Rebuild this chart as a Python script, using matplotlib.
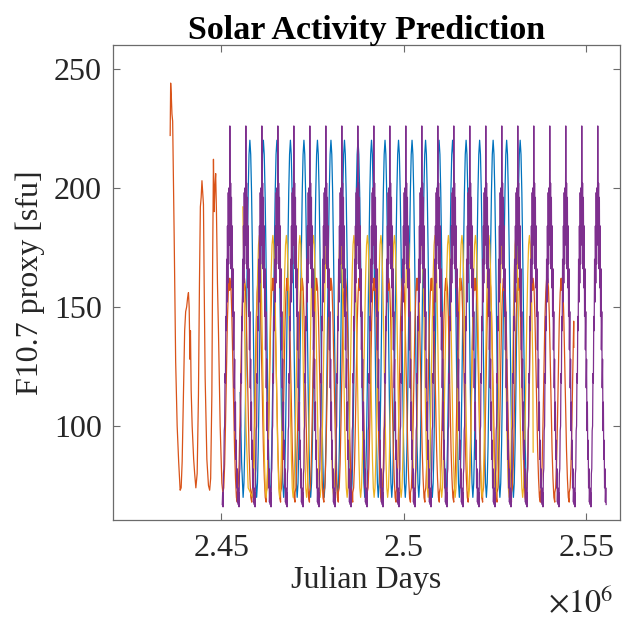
import matplotlib
matplotlib.use("Agg")
import matplotlib.pyplot as plt
import numpy as np

# ---------------------------------------------------------------------
# Data: observed F10.7 record (Julian day, sfu) and repeating cycle
# profiles used by the four predicted series
# ---------------------------------------------------------------------
obs_jd = [2436026, 2436163, 2436355, 2436519, 2436711, 2437122, 2437533,
          2437944, 2438355, 2438766, 2439040, 2439314, 2439670, 2439999,
          2440273, 2440547, 2440821, 2441040, 2441232, 2441451, 2441588,
          2441780, 2442054, 2442465, 2442739, 2443068, 2443424, 2443780,
          2444054, 2444301, 2444520, 2444739, 2444931, 2445150, 2445342,
          2445616, 2446082, 2446520, 2446849, 2447123, 2447452, 2447671,
          2447890, 2448082, 2448274, 2448493, 2448712, 2448986, 2449260,
          2449726, 2450192, 2450466]
obs_f107 = [222, 244, 238, 231, 228, 180, 127, 100, 85, 73, 74, 85, 113, 140,
            148, 150, 154, 156, 150, 128, 140, 115, 100, 86, 80, 74, 80, 113,
            160, 192, 196, 203, 198, 193, 160, 120, 86, 75, 73, 78, 113, 170,
            212, 190, 200, 206, 190, 160, 140, 100, 76, 72]

# one cycle, phase 0..1 from minimum to minimum
smooth_phase = np.linspace(0, 1, 17)
blue_cycle = [70, 76, 92, 116, 145, 174, 198, 214, 220,
              214, 198, 174, 145, 116, 92, 76, 70]
yellow_cycle = [70, 74, 86, 104, 125, 146, 164, 176, 180,
                176, 164, 146, 125, 104, 86, 74, 70]

orange_phase = [0.0, 0.0625, 0.125, 0.1875, 0.25, 0.3125, 0.375, 0.44,
                0.47, 0.5, 0.5625, 0.625, 0.6875, 0.75, 0.8125, 0.875,
                0.9375, 1.0]
orange_cycle = [72, 74, 84, 102, 124, 144, 156, 162, 157, 162, 158, 146,
                128, 108, 90, 78, 70, 68]

purple_phase = np.linspace(0, 1, 41)
purple_cycle = [67, 72, 66, 80, 82, 98, 100, 122, 118, 146, 140, 170, 152,
                184, 160, 198, 168, 200, 176, 226, 180, 202, 166, 196, 158,
                184, 146, 166, 132, 148, 116, 128, 98, 110, 86, 94, 74, 82,
                68, 74, 67]

# cycle timing: first minimum [JD], period [days], number of cycles
blue_start, blue_period, blue_n = 2456014, 3703, 21
yellow_start, yellow_period, yellow_n = 2458616, 3700, 21
orange_start, orange_period, orange_n = 2450466, 3954, 25
purple_start, purple_period, purple_n = 2450300, 4383, 24

# series lead-in / cut-off points
blue_head_jd, blue_head_val = [2455206, 2455600], [114, 85]
yellow_head_jd, yellow_head_val = [2455946, 2456350, 2456800, 2457400], [192, 150, 100, 74]
yellow_end_jd, yellow_end_val = 2535488, 89
orange_end_jd, orange_end_val = 2546640, 133


def tile_cycles(start, period, n, phase, values):
    """Repeat one cycle profile n times starting at the given minimum."""
    jd, val = [], []
    for k in range(n):
        jd.extend(start + k * period + np.asarray(phase) * period)
        val.extend(values)
    return np.array(jd), np.array(val)


def cut(jd, val, end_jd, end_val):
    keep = jd < end_jd
    return np.append(jd[keep], end_jd), np.append(val[keep], end_val)


# blue
b_jd, b_val = tile_cycles(blue_start, blue_period, blue_n, smooth_phase, blue_cycle)
b_jd = np.concatenate([blue_head_jd, b_jd])
b_val = np.concatenate([blue_head_val, b_val])

# orange: observed record followed by prediction
o_jd, o_val = tile_cycles(orange_start, orange_period, orange_n, orange_phase, orange_cycle)
o_jd, o_val = cut(o_jd, o_val, orange_end_jd, orange_end_val)
o_jd = np.concatenate([obs_jd, o_jd[1:]])
o_val = np.concatenate([obs_f107, o_val[1:]])

# yellow
y_jd, y_val = tile_cycles(yellow_start, yellow_period, yellow_n, smooth_phase, yellow_cycle)
y_jd, y_val = cut(y_jd, y_val, yellow_end_jd, yellow_end_val)
y_jd = np.concatenate([yellow_head_jd, y_jd])
y_val = np.concatenate([yellow_head_val, y_val])

# purple
p_jd, p_val = tile_cycles(purple_start, purple_period, purple_n, purple_phase, purple_cycle)

# ---------------------------------------------------------------------
# Plot
# ---------------------------------------------------------------------
plt.rcParams["font.family"] = ["Liberation Serif", "DejaVu Serif"]
plt.rcParams["mathtext.fontset"] = "stix"

fig = plt.figure(figsize=(6.23, 6.18), dpi=100)
ax = fig.add_axes([0.181, 0.1586, 0.8143, 0.7686])

lw = 0.9
ax.plot(b_jd, b_val, color="#0072BD", lw=lw)
ax.plot(o_jd, o_val, color="#D95319", lw=lw)
ax.plot(y_jd, y_val, color="#EDB120", lw=lw)
ax.plot(p_jd, p_val, color="#7E2F8E", lw=lw)

ax.set_xlim(2.4203e6, 2.5593e6)
ax.set_ylim(60.5, 260)
ax.set_xticks([2.45e6, 2.5e6, 2.55e6])
ax.set_xticklabels(["2.45", "2.5", "2.55"])
ax.set_yticks([100, 150, 200, 250])

for s in ax.spines.values():
    s.set_color("#6b6b6b")
    s.set_linewidth(0.9)
ax.tick_params(direction="in", top=True, right=True, length=5, width=0.8,
               color="#6b6b6b", labelcolor="#262626", labelsize=23)
ax.tick_params(axis="x", pad=10)
ax.tick_params(axis="y", pad=8)

ax.set_title("Solar Activity Prediction", fontsize=24.5, fontweight="bold", pad=4)
ax.set_xlabel("Julian Days", fontsize=23, color="#262626", labelpad=2)
ax.set_ylabel("F10.7 proxy [sfu]", fontsize=23, color="#262626", labelpad=6)
fig.text(613 / 623, 1 - 612 / 618, r"$\times10^{6}$", ha="right", va="baseline",
         fontsize=23, color="#262626")

fig.savefig("out.png", dpi=100)
